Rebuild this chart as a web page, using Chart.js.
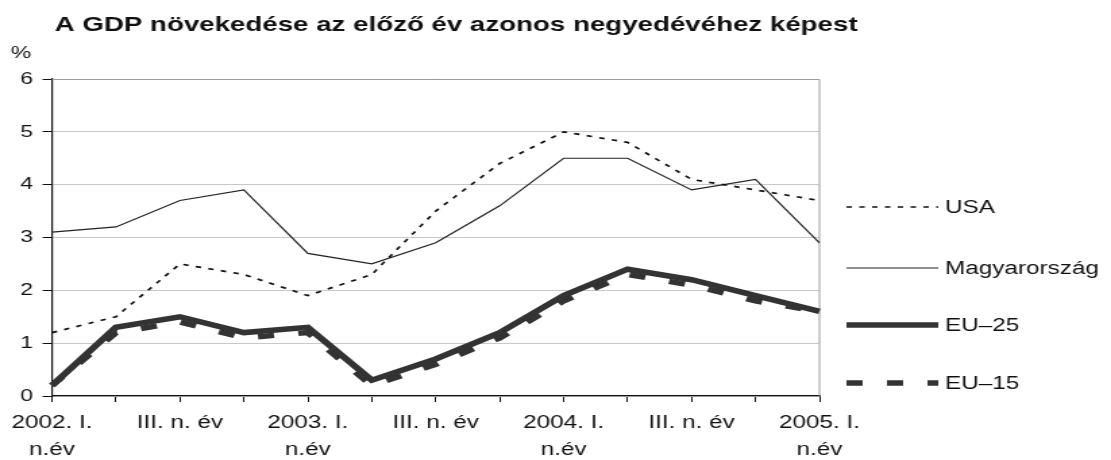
<!DOCTYPE html>
<html>
<head>
<meta charset="utf-8">
<script src="https://cdn.jsdelivr.net/npm/chart.js@4/dist/chart.umd.min.js"></script>
<style>
  html, body { margin: 0; padding: 0; background: #fff; overflow: hidden; }
  #wrap { width: 1111px; height: 460px; }
  /* the original graphic is stretched sideways, so the canvas is too */
  #gdpChart { transform-origin: 0 0; transform: scaleX(1.35); }
</style>
</head>
<body>
<div id="wrap"><canvas id="gdpChart" width="823" height="460"></canvas></div>
<script>
const chartTitle = 'A GDP növekedése az előző év azonos negyedévéhez képest';

const quarters = [
  ['2002. I.', 'n.év'], '', 'III. n. év', '',
  ['2003. I.', 'n.év'], '', 'III. n. év', '',
  ['2004. I.', 'n.év'], '', 'III. n. év', '',
  ['2005. I.', 'n.év']
];

const usa     = [1.2, 1.5, 2.5, 2.3, 1.9, 2.3, 3.5, 4.4, 5.0, 4.8, 4.1, 3.9, 3.7];
const hungary = [3.1, 3.2, 3.7, 3.9, 2.7, 2.5, 2.9, 3.6, 4.5, 4.5, 3.9, 4.1, 2.9];
const eu25    = [0.2, 1.3, 1.5, 1.2, 1.3, 0.3, 0.7, 1.2, 1.9, 2.4, 2.2, 1.9, 1.6];
const eu15    = [0.2, 1.2, 1.4, 1.1, 1.2, 0.2, 0.6, 1.1, 1.8, 2.3, 2.1, 1.8, 1.6];

const yTicks = [0, 1, 2, 3, 4, 5, 6];

const FONT = "'Liberation Sans', Arial, sans-serif";

// title, % label, top/right frame and the legend on the right
const extras = {
  id: 'extras',
  beforeDatasetsDraw(chart) {
    const { ctx, chartArea: a } = chart;
    ctx.save();
    ctx.strokeStyle = '#9a9a9a';
    ctx.lineWidth = 1;
    ctx.beginPath();
    ctx.moveTo(a.left, a.top + 0.5);
    ctx.lineTo(a.right, a.top + 0.5);
    ctx.lineTo(a.right, a.bottom);
    ctx.stroke();
    ctx.restore();
  },
  afterDraw(chart) {
    const { ctx } = chart;
    ctx.save();
    ctx.fillStyle = '#111';
    ctx.textBaseline = 'alphabetic';
    ctx.font = 'bold 20.5px ' + FONT;
    ctx.fillText(chartTitle, 40.5, 31);
    ctx.font = '17px ' + FONT;
    ctx.fillText('%', 8, 58);

    // legend
    const rows = [207, 268, 325, 383];
    ctx.textBaseline = 'middle';
    chart.data.datasets.forEach((ds, i) => {
      const y = rows[i];
      ctx.strokeStyle = ds.borderColor;
      ctx.lineWidth = ds.borderWidth;
      ctx.setLineDash(ds.borderDash || []);
      ctx.beginPath();
      ctx.moveTo(627, y);
      ctx.lineTo(695, y);
      ctx.stroke();
      ctx.setLineDash([]);
      ctx.fillStyle = '#111';
      ctx.font = '18px ' + FONT;
      ctx.fillText(ds.label, 700, y + 1);
    });
    ctx.restore();
  }
};

new Chart(document.getElementById('gdpChart'), {
  type: 'line',
  data: {
    labels: quarters,
    datasets: [
      { label: 'USA', data: usa, borderColor: '#111', borderWidth: 1.7, borderDash: [4, 5.5] },
      { label: 'Magyarország', data: hungary, borderColor: '#222', borderWidth: 1.2 },
      { label: 'EU–25', data: eu25, borderColor: '#333', borderWidth: 5.5 },
      { label: 'EU–15', data: eu15, borderColor: '#333', borderWidth: 5.5, borderDash: [12, 18] }
    ]
  },
  options: {
    responsive: false,
    animation: false,
    layout: { padding: { top: 79, right: 216, bottom: 0, left: 0 } },
    elements: {
      point: { radius: 0 },
      line: { tension: 0, fill: false, borderCapStyle: 'butt' }
    },
    plugins: {
      legend: { display: false },
      title: { display: false },
      tooltip: { enabled: false }
    },
    scales: {
      x: {
        offset: false,
        grid: { drawOnChartArea: false, color: '#111', tickColor: '#111', tickLength: 6 },
        border: { color: '#111', width: 1.2 },
        ticks: {
          autoSkip: false, maxRotation: 0, padding: 8,
          color: '#111', font: { family: FONT, size: 18, lineHeight: 1.5 }
        },
        afterFit(scale) { scale.height = 64; }
      },
      y: {
        min: 0, max: 6,
        afterBuildTicks(scale) { scale.ticks = yTicks.map(v => ({ value: v })); },
        grid: { color: '#c8c8c8', tickColor: '#111', tickLength: 7 },
        border: { color: '#111', width: 1.2 },
        ticks: { padding: 7, color: '#111', font: { family: FONT, size: 17 } },
        afterFit(scale) { scale.width = 38.5; }
      }
    }
  },
  plugins: [extras]
});
</script>
</body>
</html>
